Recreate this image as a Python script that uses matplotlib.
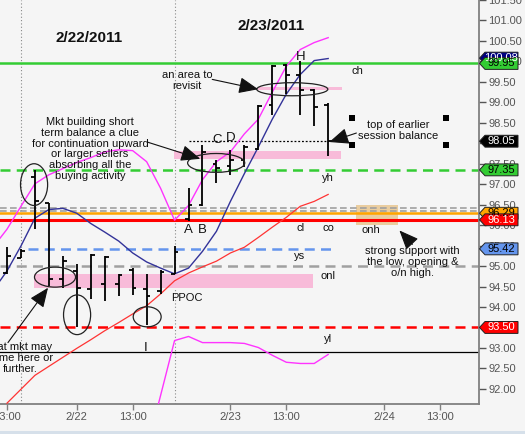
import matplotlib
matplotlib.use("Agg")
import matplotlib.pyplot as plt
import numpy as np
from matplotlib.patches import Ellipse, Rectangle, Polygon

plt.rcParams['font.family'] = ['Liberation Sans', 'DejaVu Sans']

# ---------------- data ----------------
bar_idx = list(range(24))
opens  = [94.83, 95.20, 97.18, 96.53, 94.68, 94.88, 94.45, 94.56, 94.56, 94.90, 94.44, 94.40,
          94.81, 96.15, 96.50, 97.50, 97.45, 97.60, 97.87, 98.93, 99.90, 99.66, 99.30, 98.93]
highs  = [95.46, 95.41, 97.35, 96.55, 95.24, 95.05, 95.30, 95.24, 94.80, 94.95, 94.80, 94.90,
          95.49, 96.90, 97.96, 97.60, 97.84, 97.96, 98.93, 99.90, 99.93, 100.02, 99.32, 98.98]
lows   = [94.81, 95.19, 95.90, 94.51, 94.46, 93.50, 94.20, 94.15, 94.27, 94.30, 93.57, 94.32,
          94.81, 96.10, 96.46, 97.02, 97.23, 97.43, 97.84, 98.69, 99.20, 98.69, 98.42, 97.69]
closes = [95.25, 95.38, 96.58, 94.68, 95.12, 94.47, 95.27, 95.22, 94.78, 94.47, 94.27, 94.85,
          95.35, 96.50, 97.79, 97.40, 97.60, 97.90, 98.90, 99.88, 99.66, 99.30, 98.88, 98.05]

curve_idx = [-0.5] + bar_idx
upper_band = [95.68, 95.90, 96.46, 97.01, 97.23, 97.38, 97.53, 97.65, 97.79, 97.84, 97.82, 97.55,
              96.90, 96.12, 96.48, 97.11, 97.55, 97.79, 98.23, 98.59, 99.25, 99.88, 100.29, 100.46, 100.58]
mid_line = [94.64, 94.88, 95.49, 96.17, 96.38, 96.41, 96.29, 96.04, 95.83, 95.61, 95.32, 95.10,
            94.95, 94.81, 94.95, 95.36, 95.85, 96.58, 97.26, 97.91, 98.59, 99.20, 99.68, 100.02, 100.07]
lower_line = [np.nan, 91.65, 91.99, 92.33, 92.55, 92.77, 92.99, 93.20, 93.42, 93.62, 93.83, 94.03,
              94.32, 94.64, 94.83, 94.98, 95.12, 95.32, 95.46, 95.70, 95.95, 96.19, 96.46, 96.58, 96.75]
lower_band = [np.nan] * 11 + [90.50, 91.84, 93.18, 93.28, 93.13, 93.13, 93.13, 93.11, 93.01,
                              92.82, 92.65, 92.62, 92.62, 92.84]

xtick_pos = [0, 5, 9, 16, 20, 27, 31]
xtick_labels = ['13:00', '2/22', '13:00', '2/23', '13:00', '2/24', '13:00']
session_starts = [1, 12]

level_ch = 99.95
level_yh = 97.35
level_grey1 = 96.41
level_grey2 = 96.35
level_onh = 96.29
level_cl = 96.13
level_ys = 95.42
level_onl = 95.00
level_yl = 93.50
level_low = 92.89
level_last = 98.05
level_mid = 100.08

tags = [  # value, label, face colour, text colour
    (level_mid, '100.08', '#000080', 'white'),
    (level_ch, '99.95', '#33cc33', 'black'),
    (level_last, '98.05', '#000000', 'white'),
    (level_yh, '97.35', '#33cc33', 'black'),
    (level_onh, '96.29', '#ffa500', 'black'),
    (level_cl, '96.13', '#ff0000', 'white'),
    (level_ys, '95.42', '#6495ed', 'black'),
    (level_yl, '93.50', '#ff0000', 'white'),
]

# ---------------- figure ----------------
bg = '#f5f5f5'
fig = plt.figure(figsize=(5.25, 4.34), dpi=100, facecolor=bg)
ax = fig.add_axes([0, 30 / 434, 479 / 525, 404 / 434], facecolor=bg)
ax.set_xlim(-0.5, 33.8)
ax.set_ylim(91.63, 101.43)

for s in ['left', 'top']:
    ax.spines[s].set_visible(False)
for s in ['right', 'bottom']:
    ax.spines[s].set_color('#808080')
    ax.spines[s].set_linewidth(1.3)

ax.yaxis.tick_right()
ax.set_yticks(np.arange(92.0, 101.51, 0.5))
ax.set_yticklabels([f'{v:.2f}' for v in np.arange(92.0, 101.51, 0.5)])
ax.tick_params(axis='y', colors='#555555', labelsize=8, length=5, width=1, pad=1.5,
               labelcolor='#555555')
ax.set_xticks(xtick_pos)
ax.set_xticklabels(xtick_labels)
ax.tick_params(axis='x', colors='#808080', labelsize=8, length=4, width=1, pad=2,
               labelcolor='#555555')

# session separators
for s in session_starts:
    ax.axvline(s, color='#888888', lw=0.8, ls=(0, (1, 2)), zorder=1)

# pink bands
pink = '#f8bbd9'
ax.add_patch(Rectangle((1.94, 94.47), 19.96, 0.34, color=pink, zorder=1, lw=0))
ax.add_patch(Rectangle((11.97, 97.62), 11.93, 0.20, color=pink, zorder=1, lw=0))
ax.add_patch(Rectangle((18.0, 99.29), 6.0, 0.08, color=pink, zorder=1, lw=0))
# o/n high zone
ax.add_patch(Rectangle((25.0, 96.0), 3.0, 0.48, color='#e8c48a', alpha=0.8, zorder=1.5, lw=0))

# horizontal levels
ax.axhline(level_ch, color='#33cc33', lw=1.8, zorder=2)
ax.axhline(level_yh, color='#33cc33', lw=1.8, ls=(0, (4, 2.5)), zorder=2)
ax.axhline(level_grey1, color='#a0a0a0', lw=1.2, ls=(0, (4, 2)), zorder=2)
ax.axhline(level_grey2, color='#a0a0a0', lw=1.2, ls=(0, (4, 2)), zorder=2)
ax.axhline(level_onh, color='#ffa500', lw=1.8, zorder=2)
ax.axhline(level_cl, color='#ff0000', lw=2.2, zorder=2)
ax.hlines(level_ys, 1.5, 23.5, color='#6495ed', lw=1.8, ls=(0, (4, 2.5)), zorder=2)
ax.axhline(level_onl, color='#a0a0a0', lw=1.8, ls=(0, (4, 2.5)), zorder=2)
ax.axhline(level_yl, color='#ff0000', lw=1.8, ls=(0, (4, 2.5)), zorder=2)
ax.axhline(level_low, color='#000000', lw=0.9, zorder=2)
ax.hlines(level_last, 13, 23, color='black', lw=0.9, ls=(0, (1.5, 1.5)), zorder=2)

# indicator curves
ax.plot(curve_idx, upper_band, color='#ff33ff', lw=1.0, zorder=3)
ax.plot(curve_idx, lower_band, color='#ff33ff', lw=1.0, zorder=3)
ax.plot(curve_idx, mid_line, color='#333399', lw=1.0, zorder=3)
ax.plot(curve_idx, lower_line, color='#ff3333', lw=0.9, zorder=3)

# OHLC bars
tw = 0.27
ax.vlines(bar_idx, lows, highs, color='black', lw=1.3, zorder=4)
ax.hlines(opens, np.array(bar_idx) - tw, bar_idx, color='black', lw=1.3, zorder=4)
ax.hlines(closes, bar_idx, np.array(bar_idx) + tw, color='black', lw=1.3, zorder=4)

# ellipses
for (cx, cy, w, h) in [(1.94, 96.99, 1.94, 1.02), (3.44, 94.73, 2.94, 0.49),
                       (5.02, 93.81, 1.94, 0.97), (10.04, 93.76, 2.0, 0.49),
                       (14.98, 97.52, 4.09, 0.46), (20.43, 99.32, 5.09, 0.32)]:
    ax.add_patch(Ellipse((cx, cy), w, h, fill=False, ec='#222222', lw=0.9, zorder=5))

# texts
tc = '#111111'
ax.text(5.88, 100.56, '2/22/2011', ha='center', va='center', fontsize=11, fontweight='bold', color=tc)
ax.text(18.92, 100.87, '2/23/2011', ha='center', va='center', fontsize=11, fontweight='bold', color=tc)
ax.text(12.9, 99.53, 'an area to\nrevisit', ha='center', va='center', fontsize=8, color=tc, linespacing=1.1)
ax.text(5.95, 97.86, 'Mkt building short\nterm balance a clue\nfor continuation upward\nor larger sellers\n'
        'absorbing all the\nbuying activity', ha='center', va='center', fontsize=8, color=tc, linespacing=1.1)
ax.text(28.03, 98.31, 'top of earlier\nsession balance', ha='center', va='center', fontsize=8,
        color=tc, linespacing=1.1)
ax.text(29.03, 95.10, 'strong support with\nthe low, opening &\no/n high.', ha='center', va='center',
        fontsize=8, color=tc, linespacing=1.1)
ax.text(0.93, 92.75, 'that mkt may\ncome here or\nfurther.', ha='center', va='center', fontsize=8,
        color=tc, linespacing=1.1)

for (x, y, s) in [(25.09, 99.76, 'ch'), (23.01, 97.16, 'yh'), (21.0, 95.92, 'cl'), (23.01, 95.92, 'co'),
                  (26.09, 95.87, 'onh'), (20.93, 95.24, 'ys'), (23.01, 94.76, 'onl'),
                  (23.01, 93.23, 'yl'), (12.9, 94.22, 'PPOC')]:
    ax.text(x, y, s, ha='center', va='center', fontsize=8, color=tc)
for (x, y, s) in [(12.97, 95.87, 'A'), (13.98, 95.87, 'B'), (15.05, 98.08, 'C'), (15.99, 98.13, 'D'),
                  (21.0, 100.10, 'H'), (9.96, 93.01, 'I')]:
    ax.text(x, y, s, ha='center', va='center', fontsize=9.5, color=tc)

# arrows
ap = dict(arrowstyle='-|>,head_length=1.0,head_width=0.42', mutation_scale=12,
          color='#111111', lw=0.8, shrinkA=0, shrinkB=0)
for (x0, y0, x1, y1) in [(14.70, 99.56, 17.99, 99.32), (10.04, 98.03, 13.84, 97.62),
                         (25.02, 98.25, 23.08, 98.03), (29.03, 95.53, 28.10, 95.87),
                         (0.07, 93.13, 2.94, 94.47)]:
    ax.annotate('', xy=(x1, y1), xytext=(x0, y0), arrowprops=ap, zorder=6)

# selection handles around text box
ax.scatter([24.73, 31.47, 24.73, 31.47], [98.62, 98.62, 97.96, 97.96], marker='s', s=14,
           color='black', zorder=6, linewidths=0)

# price tags on the right axis
tr = ax.get_yaxis_transform()
hh = 0.145
x_tip, x_b0, x_b1 = 479.5 / 479, 485 / 479, 518 / 479
for (v, lab, fc, txc) in tags:
    poly = Polygon([(x_tip, v), (x_b0, v + hh), (x_b1, v + hh), (x_b1, v - hh), (x_b0, v - hh)],
                   closed=True, transform=tr, facecolor=fc, edgecolor='#222222', lw=0.7,
                   clip_on=False, zorder=10)
    ax.add_patch(poly)
    ax.text((x_b0 + x_b1) / 2, v, lab, transform=tr, ha='center', va='center', fontsize=8,
            color=txc, zorder=11, clip_on=False)

# bottom window strip
fig.add_artist(Rectangle((0, 0), 1, 3 / 434, transform=fig.transFigure, facecolor='#d6e0ea',
                         edgecolor='none'))

fig.savefig('out.png', dpi=100, facecolor=bg)
